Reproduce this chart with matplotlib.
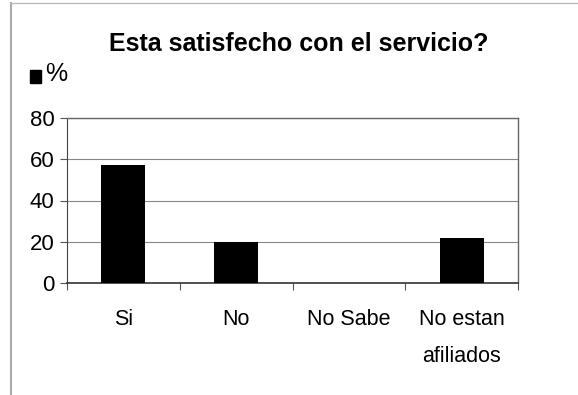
#!/usr/bin/env python3
import matplotlib
matplotlib.use("Agg")
import matplotlib.pyplot as plt
from matplotlib.lines import Line2D

# -----------------------------------------------------------------------------
# Data
# -----------------------------------------------------------------------------

categories = ["Si", "No", "No Sabe", "No estan\nafiliados"]
percent = [57, 20, 0, 22]
y_ticks = [0, 20, 40, 60, 80]

plt.rcParams["font.family"] = ["Liberation Sans", "DejaVu Sans"]

# -----------------------------------------------------------------------------
# Plot
# -----------------------------------------------------------------------------

fig = plt.figure(figsize=(5.78, 3.95), dpi=100)
ax = fig.add_axes([67 / 578, 1 - 283 / 395, (518 - 67) / 578, (283 - 118) / 395])

x = list(range(len(categories)))
ax.bar(x, percent, width=0.39, color="black", zorder=3)

ax.set_xlim(-0.5, len(categories) - 0.5)
ax.set_ylim(0, 80)
ax.set_yticks(y_ticks)
ax.tick_params(axis="y", labelsize=16, length=5, width=0.8, color="#555555", pad=4)
ax.grid(axis="y", color="#888888", linewidth=0.8, zorder=0)

# category labels centred, ticks between categories
ax.set_xticks(x)
ax.set_xticklabels(categories, fontsize=15.5, linespacing=2.0, va="top")
ax.tick_params(axis="x", length=0, pad=19)
ax.set_xticks([i - 0.5 for i in range(len(categories) + 1)], minor=True)
ax.tick_params(axis="x", which="minor", length=5, width=0.8, color="#555555")

for side in ["top", "right"]:
    ax.spines[side].set_color("#666666")
    ax.spines[side].set_linewidth(1.0)
ax.spines["left"].set_color("#444444")
ax.spines["bottom"].set_color("#333333")
ax.spines["bottom"].set_linewidth(1.2)

fig.text(299 / 578, 1 - 51 / 395, "Esta satisfecho con el servicio?",
         ha="center", va="baseline", fontsize=18, fontweight="bold")

# legend: black square + "%"
fig.patches.append(plt.Rectangle((30 / 578, 1 - 83 / 395), 11 / 578, 13 / 395,
                                 transform=fig.transFigure, color="black"))
fig.text(45 / 578, 1 - 81 / 395, "%", ha="left", va="baseline", fontsize=18)

# outer frame
fig.add_artist(Line2D([11 / 578, 11 / 578], [0.0, 1 - 3 / 395],
                      transform=fig.transFigure, color="#aaaaaa", linewidth=1.5))
fig.add_artist(Line2D([11 / 578, 1.0], [1 - 3 / 395, 1 - 3 / 395],
                      transform=fig.transFigure, color="#bbbbbb", linewidth=1.0))

fig.savefig("out.png", dpi=100)
